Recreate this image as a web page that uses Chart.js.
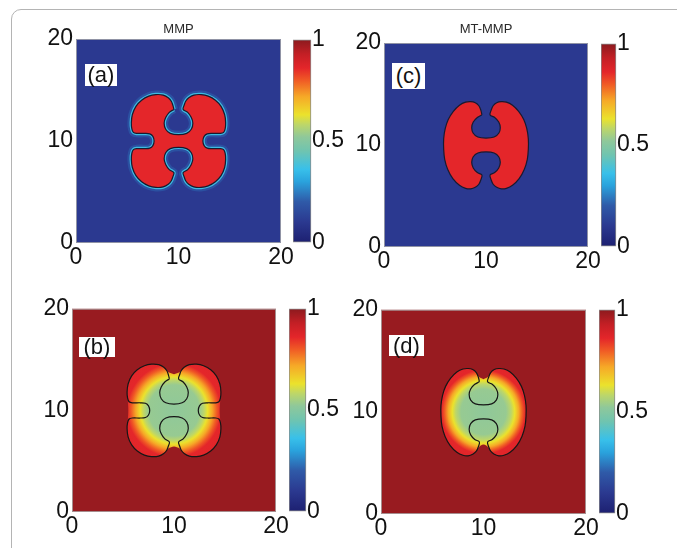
<!DOCTYPE html>
<html>
<head>
<meta charset="utf-8">
<script src="https://cdn.jsdelivr.net/npm/chart.js@4.4.1/dist/chart.umd.min.js"></script>
<style>
  html, body { margin: 0; padding: 0; background: #fff; width: 677px; height: 548px; overflow: hidden; }
  .frame { position: absolute; left: 11px; top: 9px; width: 720px; height: 600px; border: 1px solid #b4b4b4;
           border-top-left-radius: 10px; box-sizing: border-box; }
  canvas { position: absolute; }
  .tag { position: absolute; background: #fff; color: #111; text-align: center;
         font-family: "Liberation Sans", Arial, Helvetica, sans-serif; font-size: 22px; }
</style>
</head>
<body>
<div class="frame"></div>
<script>
const FONT = '"Liberation Sans", Arial, Helvetica, sans-serif';

// ---- axis / colour-bar ticks and panel text ----
const AXIS_TICKS = [0, 10, 20];
const COLORBAR_TICKS = [0, 0.5, 1];
const PANEL_TITLES = { a: 'MMP', c: 'MT-MMP' };
const PANEL_TAGS = { a: '(a)', b: '(b)', c: '(c)', d: '(d)' };

// ---- colour scale (value -> colour), shared by maps and colour bars ----
const COLORMAP_VALUES = [0.00, 0.10, 0.20, 0.30, 0.36, 0.45, 0.52, 0.58, 0.63, 0.72, 0.80, 0.86, 0.93, 1.00];
const COLORMAP_COLORS = ['#1d2071', '#2b3990', '#2f5aa8', '#2aa3dd', '#38c0ea', '#6fc4b0', '#8fc89a',
                         '#bcd66a', '#ebe22c', '#f6a827', '#f05a25', '#e4262a', '#c31f25', '#8c1a1e'];

// ---- field levels ----
const MMP_OUTSIDE = 0.10;   // MMP level away from the cell
const MMP_INSIDE = 0.86;    // MMP level inside the cell
const ECM_FAR = 0.985;      // matrix density away from the cell

// Cell interface (x, y) for the MMP case: four-lobed cell with two notches and two side bays
const mmpInterface = [
  [9.55,13.1],[9.45,13.5],[9.3,13.9],[9.0,14.25],[8.5,14.5],[7.8,14.55],[7.1,14.4],[6.4,14.0],
  [5.85,13.4],[5.5,12.6],[5.4,11.8],[5.45,11.2],[5.6,10.85],[5.9,10.75],[6.7,10.75],[7.2,10.7],
  [7.5,10.45],[7.62,10.0],[7.5,9.55],[7.2,9.3],[6.7,9.25],[5.9,9.25],[5.6,9.15],[5.45,8.8],
  [5.4,8.2],[5.5,7.4],[5.85,6.6],[6.4,6.0],[7.1,5.6],[7.8,5.45],[8.5,5.5],[9.0,5.75],[9.3,6.1],
  [9.45,6.5],[9.55,6.9],[9.1,7.2],[8.75,7.7],[8.6,8.25],[8.75,8.85],[9.2,9.25],[10.0,9.38],
  [10.8,9.25],[11.25,8.85],[11.4,8.25],[11.25,7.7],[10.9,7.2],[10.45,6.9],[10.55,6.5],[10.7,6.1],
  [11.0,5.75],[11.5,5.5],[12.2,5.45],[12.9,5.6],[13.6,6.0],[14.15,6.6],[14.5,7.4],[14.6,8.2],
  [14.55,8.8],[14.4,9.15],[14.1,9.25],[13.3,9.25],[12.8,9.3],[12.5,9.55],[12.38,10.0],[12.5,10.45],
  [12.8,10.7],[13.3,10.75],[14.1,10.75],[14.4,10.85],[14.55,11.2],[14.6,11.8],[14.5,12.6],
  [14.15,13.4],[13.6,14.0],[12.9,14.4],[12.2,14.55],[11.5,14.5],[11.0,14.25],[10.7,13.9],
  [10.55,13.5],[10.45,13.1],[10.9,12.8],[11.25,12.3],[11.4,11.75],[11.25,11.15],[10.8,10.75],
  [10.0,10.62],[9.2,10.75],[8.75,11.15],[8.6,11.75],[8.75,12.3],[9.1,12.8],[9.55,13.1]
];

// Cell interface (x, y) for the MT-MMP case: two bean-shaped lobes joined by a bar
const mtmmpInterface = [
  [9.6,12.95],[9.5,13.4],[9.3,13.85],[8.95,14.15],[8.5,14.25],[8.0,14.2],[7.4,13.9],[6.8,13.3],
  [6.3,12.5],[6.0,11.6],[5.85,10.6],[5.85,9.6],[5.95,8.6],[6.25,7.6],[6.75,6.7],[7.4,6.05],
  [8.0,5.75],[8.5,5.7],[8.95,5.85],[9.3,6.15],[9.5,6.6],[9.6,7.05],[9.15,7.3],[8.75,7.75],
  [8.6,8.3],[8.75,8.85],[9.2,9.22],[10.0,9.32],[10.8,9.22],[11.25,8.85],[11.4,8.3],[11.25,7.75],
  [10.85,7.3],[10.4,7.05],[10.5,6.6],[10.7,6.15],[11.05,5.85],[11.5,5.7],[12.0,5.75],[12.6,6.05],
  [13.25,6.7],[13.75,7.6],[14.05,8.6],[14.15,9.6],[14.15,10.6],[14.0,11.6],[13.7,12.5],[13.2,13.3],
  [12.6,13.9],[12.0,14.2],[11.5,14.25],[11.05,14.15],[10.7,13.85],[10.5,13.4],[10.4,12.95],
  [10.85,12.7],[11.25,12.25],[11.4,11.7],[11.25,11.15],[10.8,10.78],[10.0,10.68],[9.2,10.78],
  [8.75,11.15],[8.6,11.7],[8.75,12.25],[9.15,12.7],[9.6,12.95]
];

// Outer limit of the degraded-matrix zone around each cell
const mmpDegradedZone = [
  [10,13.55],[10.55,13.75],[10.7,13.9],[11.0,14.25],[11.5,14.5],[12.2,14.55],[12.9,14.4],[13.6,14.0],
  [14.15,13.4],[14.5,12.6],[14.6,11.8],[14.55,11.2],[14.5,10.5],[14.48,10],[14.5,9.5],[14.55,8.8],
  [14.6,8.2],[14.5,7.4],[14.15,6.6],[13.6,6.0],[12.9,5.6],[12.2,5.45],[11.5,5.5],[11.0,5.75],
  [10.7,6.1],[10.55,6.25],[10,6.45],[9.45,6.25],[9.3,6.1],[9.0,5.75],[8.5,5.5],[7.8,5.45],
  [7.1,5.6],[6.4,6.0],[5.85,6.6],[5.5,7.4],[5.4,8.2],[5.45,8.8],[5.5,9.5],[5.52,10],[5.5,10.5],
  [5.45,11.2],[5.4,11.8],[5.5,12.6],[5.85,13.4],[6.4,14.0],[7.1,14.4],[7.8,14.55],[8.5,14.5],
  [9.0,14.25],[9.3,13.9],[9.45,13.75],[10,13.55]
];
const mtmmpDegradedZone = [
  [10,13.2],[10.5,13.5],[10.7,13.85],[11.05,14.15],[11.5,14.25],[12.0,14.2],[12.6,13.9],[13.2,13.3],
  [13.7,12.5],[14.0,11.6],[14.15,10.6],[14.15,9.6],[14.05,8.6],[13.75,7.6],[13.25,6.7],[12.6,6.05],
  [12.0,5.75],[11.5,5.7],[11.05,5.85],[10.7,6.15],[10.5,6.5],[10,6.8],[9.5,6.5],[9.3,6.15],
  [8.95,5.85],[8.5,5.7],[8.0,5.75],[7.4,6.05],[6.75,6.7],[6.25,7.6],[5.95,8.6],[5.85,9.6],
  [5.85,10.6],[6.0,11.6],[6.3,12.5],[6.8,13.3],[7.4,13.9],[8.0,14.2],[8.5,14.25],[8.95,14.15],
  [9.3,13.85],[9.5,13.5],[10,13.2]
];

// Matrix density against distance from the cell centre
const mmpEcmRadius = [0, 2.5, 2.95, 3.3, 3.75, 4.2, 4.6, 6.0];
const mmpEcmValue  = [0.52, 0.53, 0.58, 0.63, 0.72, 0.80, 0.86, 0.87];
const mtmmpEcmRadius = [0, 2.2, 2.7, 3.05, 3.45, 3.8, 4.1, 5.0];
const mtmmpEcmValue  = [0.52, 0.53, 0.58, 0.63, 0.72, 0.80, 0.86, 0.87];
const CELL_CENTRE = [10, 10];

// ---- helpers ----
function hexToRgb(h) { const n = parseInt(h.slice(1), 16); return [(n >> 16) & 255, (n >> 8) & 255, n & 255]; }
function valueColor(v, alpha = 1) {
  v = Math.max(0, Math.min(1, v));
  for (let i = 1; i < COLORMAP_VALUES.length; i++) {
    if (v <= COLORMAP_VALUES[i]) {
      const t = (v - COLORMAP_VALUES[i - 1]) / (COLORMAP_VALUES[i] - COLORMAP_VALUES[i - 1]);
      const a = hexToRgb(COLORMAP_COLORS[i - 1]), b = hexToRgb(COLORMAP_COLORS[i]);
      const c = a.map((x, k) => Math.round(x + (b[k] - x) * t));
      return `rgba(${c[0]},${c[1]},${c[2]},${alpha})`;
    }
  }
  return COLORMAP_COLORS[COLORMAP_COLORS.length - 1];
}
const toPoints = arr => arr.map(([x, y]) => ({ x, y }));

function radialFill(radii, values) {
  return (ctx) => {
    const chart = ctx.chart;
    if (!chart.chartArea) return 'rgba(0,0,0,0)';
    const xs = chart.scales.x, ys = chart.scales.y;
    const cx = xs.getPixelForValue(CELL_CENTRE[0]), cy = ys.getPixelForValue(CELL_CENTRE[1]);
    const unit = Math.abs(xs.getPixelForValue(1) - xs.getPixelForValue(0));
    const rMax = radii[radii.length - 1];
    const g = chart.ctx.createRadialGradient(cx, cy, 0, cx, cy, rMax * unit);
    radii.forEach((r, i) => g.addColorStop(r / rMax, valueColor(values[i])));
    return g;
  };
}

function colorbarFill(ctx) {
  const chart = ctx.chart, area = chart.chartArea;
  if (!area) return 'rgba(0,0,0,0)';
  const ys = chart.scales.y;
  const g = chart.ctx.createLinearGradient(0, ys.getPixelForValue(0), 0, ys.getPixelForValue(1));
  COLORMAP_VALUES.forEach((v, i) => g.addColorStop(v, COLORMAP_COLORS[i]));
  return g;
}

// background + light frame of each map
const plotFrame = {
  id: 'plotFrame',
  beforeDatasetsDraw(chart, args, opts) {
    const a = chart.chartArea, c = chart.ctx;
    c.save(); c.fillStyle = opts.background; c.fillRect(a.left, a.top, a.width, a.height); c.restore();
  },
  afterDatasetsDraw(chart, args, opts) {
    const a = chart.chartArea, c = chart.ctx;
    c.save(); c.strokeStyle = opts.edge; c.lineWidth = 1;
    c.strokeRect(a.left + 0.5, a.top + 0.5, a.width - 1, a.height - 1); c.restore();
  }
};

function axisTicks(values) {
  return (scale) => { scale.ticks = values.map(v => ({ value: v })); };
}
const plainLabel = (value) => String(value);

const panels = [
  { id: 'a', plot: [76, 39, 281, 243], bar: [293, 311], titleGap: 10, tag: [85, 64, 32, 22], kind: 'front',
    outline: mmpInterface, halo: true },
  { id: 'c', plot: [384, 43, 588, 247], bar: [601, 616], titleGap: 14, tag: [392, 63, 33, 26], kind: 'front',
    outline: mtmmpInterface, halo: false },
  { id: 'b', plot: [72, 308, 276, 512], bar: [289, 306], tag: [79, 337, 36, 20], kind: 'ecm',
    outline: mmpInterface, zone: mmpDegradedZone, radii: mmpEcmRadius, values: mmpEcmValue },
  { id: 'd', plot: [381, 309, 586, 514], bar: [599, 615], tag: [389, 335, 35, 21], kind: 'ecm',
    outline: mtmmpInterface, zone: mtmmpDegradedZone, radii: mtmmpEcmRadius, values: mtmmpEcmValue }
];

function addCanvas(left, top, w, h) {
  const cv = document.createElement('canvas');
  cv.width = w; cv.height = h;
  cv.style.left = left + 'px'; cv.style.top = top + 'px';
  cv.style.width = w + 'px'; cv.style.height = h + 'px';
  document.body.appendChild(cv);
  return cv;
}

function buildMap(p) {
  const [L, T, R, B] = p.plot;
  const plotW = R - L, plotH = B - T;
  const yAxisW = 50, xAxisH = 36, padRight = 24;
  const titleText = PANEL_TITLES[p.id];
  const titleSize = 13;
  let top, layoutTop, title = { display: false };
  if (titleText) {
    const half = titleSize * 0.6;
    const bottomPad = p.titleGap - half;
    const titleH = titleSize * 1.2 + bottomPad;
    top = Math.floor(T - 4 - titleH);
    layoutTop = T - top - titleH;
    title = { display: true, text: titleText, fullSize: false, color: '#2a2a2a',
              font: { size: titleSize, family: FONT, weight: 'normal' }, padding: { top: 0, bottom: bottomPad } };
  } else {
    layoutTop = 16; top = T - layoutTop;
  }
  const cv = addCanvas(L - yAxisW, top, yAxisW + plotW + padRight, (T - top) + plotH + xAxisH);

  let datasets, background;
  if (p.kind === 'front') {
    background = valueColor(MMP_OUTSIDE);
    datasets = [{
      label: 'cell', data: toPoints(p.outline), fill: 'shape', backgroundColor: valueColor(MMP_INSIDE),
      borderColor: '#181a30', borderWidth: 1.2, order: 0
    }];
    if (p.halo) {
      datasets.push({ label: 'secreted MMP', data: toPoints(p.outline), fill: false,
        borderColor: valueColor(0.37, 0.95), borderWidth: 3.6, order: 1 });
      datasets.push({ label: 'secreted MMP (diffused)', data: toPoints(p.outline), fill: false,
        borderColor: valueColor(0.27, 0.28), borderWidth: 8, order: 2 });
    }
  } else {
    background = valueColor(ECM_FAR);
    datasets = [
      { label: 'interface', data: toPoints(p.outline), fill: false, borderColor: '#161616', borderWidth: 1.2, order: 0 },
      { label: 'matrix', data: toPoints(p.zone), fill: 'shape', backgroundColor: radialFill(p.radii, p.values),
        borderColor: 'rgba(0,0,0,0)', borderWidth: 1, order: 1 }
    ];
  }
  datasets.forEach(d => { d.pointRadius = 0; d.tension = 0.35; d.showLine = true; });

  const tickFont = { size: 23, family: FONT };
  new Chart(cv, {
    type: 'line',
    data: { datasets },
    plugins: [plotFrame],
    options: {
      responsive: false, animation: false, events: [], devicePixelRatio: 1,
      layout: { padding: { top: layoutTop, right: padRight, bottom: 0, left: 0 } },
      plugins: {
        legend: { display: false }, tooltip: { enabled: false }, title,
        plotFrame: { background, edge: 'rgba(170,170,170,0.8)' }
      },
      scales: {
        x: { type: 'linear', min: 0, max: 20, afterBuildTicks: axisTicks(AXIS_TICKS),
             ticks: { font: tickFont, color: '#111', padding: 1, maxRotation: 0, callback: plainLabel },
             grid: { display: false, drawTicks: false }, border: { display: false },
             afterFit: s => { s.height = xAxisH; } },
        y: { type: 'linear', min: 0, max: 20, afterBuildTicks: axisTicks(AXIS_TICKS),
             ticks: { font: tickFont, color: '#111', padding: 3, callback: plainLabel },
             grid: { display: false, drawTicks: false }, border: { display: false },
             afterFit: s => { s.width = yAxisW; } }
      }
    }
  });

  // colour bar
  const [bL, bR] = p.bar;
  const cb = addCanvas(bL, T - 14, (bR - bL) + 50, plotH + 28);
  new Chart(cb, {
    type: 'bar',
    data: { labels: ['value'], datasets: [{
      data: [[0, 1]], backgroundColor: colorbarFill, borderColor: '#8a8a8a', borderWidth: 1,
      borderSkipped: false, barPercentage: 1, categoryPercentage: 1, clip: 4
    }] },
    options: {
      responsive: false, animation: false, events: [], devicePixelRatio: 1,
      layout: { padding: { top: 14, bottom: 14, left: 0, right: 0 } },
      plugins: { legend: { display: false }, tooltip: { enabled: false } },
      scales: {
        x: { display: false },
        y: { position: 'right', min: 0, max: 1, afterBuildTicks: axisTicks(COLORBAR_TICKS),
             ticks: { font: tickFont, color: '#111', padding: 1, callback: plainLabel },
             grid: { display: false, drawTicks: false }, border: { display: false },
             afterFit: s => { s.width = 50; } }
      }
    }
  });

  // panel tag
  const [tx, ty, tw, th] = p.tag;
  const tag = document.createElement('div');
  tag.className = 'tag';
  tag.textContent = PANEL_TAGS[p.id];
  Object.assign(tag.style, { left: tx + 'px', top: ty + 'px', width: tw + 'px', height: th + 'px', lineHeight: th + 'px' });
  document.body.appendChild(tag);
}

panels.forEach(buildMap);
</script>
</body>
</html>
